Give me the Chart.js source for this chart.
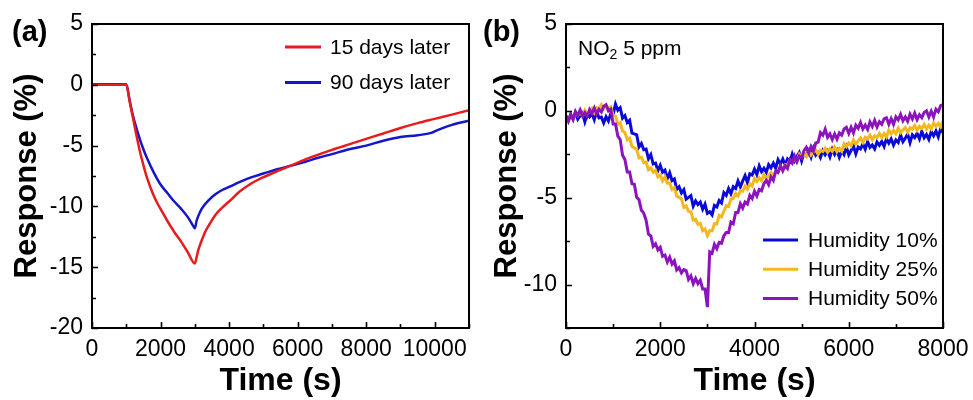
<!DOCTYPE html>
<html><head><meta charset="utf-8">
<script src="https://cdn.jsdelivr.net/npm/chart.js@4.4.1/dist/chart.umd.min.js"></script>
<style>
html,body{margin:0;padding:0;background:#fff}
body{width:973px;height:400px;overflow:hidden;position:relative;font-family:"Liberation Sans",Arial,sans-serif;color:#000}
.pane{position:absolute;top:0;height:400px}
#pa{left:0;width:486px}
#pb{left:480px;width:493px}
.lbl{position:absolute;font-weight:bold;font-size:29px;line-height:29px;top:17px}
.note{position:absolute;left:578px;top:37px;font-size:21px;line-height:21px;white-space:nowrap}
.note sub{font-size:14px;vertical-align:-4px;line-height:0}
</style></head><body>
<div class="pane" id="pa"><canvas id="ca" width="486" height="400"></canvas></div>
<div class="pane" id="pb"><canvas id="cb" width="493" height="400"></canvas></div>
<div class="lbl" style="left:12px">(a)</div>
<div class="lbl" style="left:483px">(b)</div>
<div class="note">NO<sub>2</sub> 5 ppm</div>
<script>
// ---------- Panel (a) data ----------
const tRed = [0,500,1000,1100,1200,1300,1400,1500,1600,1700,1800,1900,2000,2200,2400,2600,2800,3000,3050,3100,3200,3300,3400,3600,3800,4000,4300,4600,5000,5500,5800,6000,6500,7000,7500,8000,8500,9000,9500,10000,10500,11000];
const red15 = [0,0,0,-1.4,-2.8,-4.2,-5.5,-6.6,-7.6,-8.4,-9.1,-9.7,-10.2,-11.2,-12.1,-12.9,-13.8,-14.7,-14.2,-13.6,-12.8,-12.1,-11.6,-10.7,-10.1,-9.6,-8.8,-8.2,-7.6,-7.0,-6.65,-6.4,-5.85,-5.35,-4.9,-4.45,-4.0,-3.55,-3.15,-2.8,-2.45,-2.1];
const tBlue = [0,300,600,1000,1100,1200,1300,1400,1500,1600,1800,2000,2200,2400,2600,2800,2950,3000,3050,3100,3200,3400,3600,3800,4000,4300,4600,5000,5400,5800,6200,6600,7000,7500,8000,8500,9000,9500,9900,10100,10500,11000];
const blue90 = [0.05,0.05,0.05,0.05,-1.3,-2.6,-3.6,-4.5,-5.3,-6.0,-7.2,-8.2,-8.9,-9.6,-10.2,-10.9,-11.6,-11.8,-11.2,-10.8,-10.2,-9.5,-9.0,-8.65,-8.4,-8.0,-7.65,-7.3,-6.95,-6.65,-6.35,-6.0,-5.7,-5.3,-5.0,-4.6,-4.3,-4.15,-3.95,-3.7,-3.3,-2.95];
const labelsA = ['15 days later','90 days later'];
const xTicksA = [0,2000,4000,6000,8000,10000];
const yTicksA = [5,0,-5,-10,-15,-20];

// ---------- Panel (b) data ----------
const tB = [0,50,100,150,200,250,300,350,400,450,500,550,600,650,700,750,800,850,900,950,
1000,1050,1100,1150,1200,1250,1300,1350,1400,1450,1500,1550,1600,1650,1700,1750,1800,1850,1900,1950,
2000,2050,2100,2150,2200,2250,2300,2350,2400,2450,2500,2550,2600,2650,2700,2750,2800,2850,2900,2950,
3000,3050,3100,3150,3200,3250,3300,3350,3400,3450,3500,3550,3600,3650,3700,3750,3800,3850,3900,3950,
4000,4050,4100,4150,4200,4250,4300,4350,4400,4450,4500,4550,4600,4650,4700,4750,4800,4850,4900,4950,
5000,5050,5100,5150,5200,5250,5300,5350,5400,5450,5500,5550,5600,5650,5700,5750,5800,5850,5900,5950,
6000,6050,6100,6150,6200,6250,6300,6350,6400,6450,6500,6550,6600,6650,6700,6750,6800,6850,6900,6950,
7000,7050,7100,7150,7200,7250,7300,7350,7400,7450,7500,7550,7600,7650,7700,7750,7800,7850,7900,7950,
8000];
const hum10 = [-0.27,-0.57,-0.22,-0.47,-0.09,-0.48,-0.28,-0.13,-0.63,-0.18,-0.34,-0.15,-0.51,-0.02,-0.4,-0.36,-0.69,-0.34,-0.58,-0.16,
-0.2,0.39,0.04,0.18,-0.42,-0.27,-0.67,-0.54,-1.28,-1.33,-1.38,-2.08,-1.88,-2.24,-2.2,-2.76,-2.52,-3.05,-3.01,-3.44,
-3.14,-3.53,-3.41,-3.9,-3.56,-4.01,-3.92,-4.52,-4.37,-4.72,-4.54,-5.08,-4.98,-4.88,-5.48,-5.18,-5.39,-5.25,-5.66,-5.37,
-5.9,-5.81,-5.99,-5.44,-5.53,-5.16,-5.3,-4.71,-4.86,-4.47,-4.77,-4.37,-4.47,-4.04,-4.38,-4.03,-3.73,-4.13,-3.63,-3.69,
-3.35,-3.66,-3.17,-3.5,-3.31,-3.54,-3.09,-3.28,-3.01,-3.3,-2.81,-3.06,-2.77,-3.12,-2.77,-2.92,-2.49,-2.88,-2.63,-2.4,
-2.88,-2.43,-2.59,-2.3,-2.66,-2.17,-2.55,-2.41,-2.69,-2.29,-2.53,-2.31,-2.65,-2.21,-2.51,-2.27,-2.67,-2.32,-2.52,-2.09,
-2.53,-2.28,-2.03,-2.48,-2.08,-2.19,-1.9,-2.21,-1.77,-2.1,-1.96,-2.19,-1.79,-1.98,-1.76,-2.05,-1.61,-1.86,-1.62,-1.97,
-1.67,-1.82,-1.39,-1.78,-1.58,-1.33,-1.83,-1.38,-1.54,-1.3,-1.61,-1.17,-1.55,-1.36,-1.64,-1.19,-1.43,-1.16,-1.5,-1.01,
-1.26];
const hum25 = [-0.38,-0.6,-0.3,-0.48,-0.09,-0.26,-0.1,-0.27,0.03,-0.2,-0.03,0.14,-0.11,0.18,0.11,0.35,0.11,0.31,0.12,0.22,
-0.25,-0.3,-0.78,-0.69,-1.16,-1.25,-1.67,-1.57,-2.05,-2.13,-2.21,-2.71,-2.67,-2.99,-2.95,-3.39,-3.29,-3.53,-3.43,-3.8,
-3.7,-4.03,-3.79,-4.16,-4.15,-4.52,-4.42,-4.9,-4.98,-5.06,-5.56,-5.47,-5.79,-5.8,-6.29,-6.24,-6.53,-6.48,-6.9,-6.8,
-7.18,-6.89,-6.91,-6.5,-6.52,-6.02,-6.1,-5.78,-5.46,-5.51,-5.07,-5.04,-4.75,-4.89,-4.59,-4.63,-4.33,-4.5,-4.2,-4.33,
-3.89,-4.06,-3.85,-4.02,-3.67,-3.9,-3.73,-3.56,-3.81,-3.47,-3.49,-3.2,-3.39,-3.09,-3.13,-2.83,-3.0,-2.75,-2.88,-2.49,
-2.66,-2.45,-2.62,-2.32,-2.55,-2.38,-2.26,-2.51,-2.27,-2.34,-2.15,-2.39,-2.19,-2.33,-2.08,-2.35,-2.15,-2.33,-1.89,-2.06,
-1.85,-2.02,-1.67,-1.9,-1.73,-1.56,-1.81,-1.52,-1.62,-1.4,-1.66,-1.44,-1.53,-1.3,-1.53,-1.3,-1.5,-1.12,-1.31,-1.12,
-1.32,-1.0,-1.25,-1.1,-0.96,-1.24,-0.97,-1.06,-0.85,-1.12,-0.89,-1.01,-0.78,-1.05,-0.83,-1.04,-0.69,-0.89,-0.72,-0.92,
-0.57];
const hum50 = [-0.3,-0.6,-0.2,-0.5,-0.05,-0.25,0.05,-0.3,-0.1,-0.32,0.08,-0.15,0.17,-0.18,0.08,-0.07,0.26,0.35,0.0,0.1,
-0.75,-0.75,-1.45,-1.65,-2.55,-2.8,-3.52,-3.52,-4.2,-4.23,-4.98,-5.12,-5.72,-5.89,-6.3,-7.1,-7.2,-7.8,-7.65,-8.0,
-7.85,-8.37,-8.3,-8.7,-8.42,-8.82,-8.63,-9.16,-9.02,-9.32,-9.14,-9.2,-9.7,-9.5,-9.95,-9.65,-9.95,-9.75,-10.25,-10.25,
-11.3,-8.12,-8.2,-7.68,-7.93,-7.57,-7.62,-7.19,-7.0,-7.0,-6.4,-6.5,-5.85,-5.85,-5.35,-5.6,-5.25,-5.37,-4.87,-5.05,
-4.63,-4.9,-4.52,-4.6,-4.19,-4.0,-4.25,-3.8,-4.0,-3.47,-3.55,-3.15,-3.45,-3.15,-3.32,-2.82,-3.0,-2.6,-2.93,-2.6,
-2.72,-2.29,-2.1,-2.42,-2.05,-2.33,-1.85,-1.8,-1.25,-1.4,-1.05,-1.52,-1.32,-1.65,-1.33,-1.63,-1.27,-1.4,-1.04,-0.95,
-1.3,-0.95,-1.27,-0.83,-1.0,-0.67,-1.05,-0.82,-1.07,-0.64,-0.9,-0.55,-0.93,-0.62,-0.77,-0.46,-0.4,-0.77,-0.45,-0.77,
-0.35,-0.52,-0.2,-0.57,-0.35,-0.6,-0.19,-0.46,-0.13,-0.5,-0.22,-0.39,-0.09,0.0,-0.35,-0.02,-0.35,0.1,-0.05,0.3,
0.35];
const labelsB = ['Humidity 10%','Humidity 25%','Humidity 50%'];
const xTicksB = [0,2000,4000,6000,8000];
const yTicksB = [5,0,-5,-10];

// ---------- helpers ----------
const FONT = '"Liberation Sans", Arial, sans-serif';
const pts = (xs, ys) => xs.map((x, i) => ({x, y: ys[i]}));

const framePlugin = {
  id: 'frame',
  afterDraw(chart, args, o) {
    const {ctx, chartArea: {left, right, top, bottom}, scales: {x, y}} = chart;
    ctx.save();
    ctx.strokeStyle = '#000';
    ctx.lineWidth = 1.6;
    ctx.beginPath();
    for (let v = x.min; v <= x.max + 1e-6; v += o.xMinor) {
      const px = Math.round(x.getPixelForValue(v)) + 0.5;
      const major = Math.abs(v / o.xMajor - Math.round(v / o.xMajor)) < 1e-6;
      ctx.moveTo(px, bottom); ctx.lineTo(px, bottom - (major ? 6 : 4));
    }
    for (let v = y.min; v <= y.max + 1e-6; v += o.yMinor) {
      const py = Math.round(y.getPixelForValue(v)) + 0.5;
      const major = Math.abs(v / o.yMajor - Math.round(v / o.yMajor)) < 1e-6;
      ctx.moveTo(left, py); ctx.lineTo(left + (major ? 6 : 4), py);
    }
    ctx.stroke();
    ctx.lineWidth = 2;
    ctx.strokeRect(left, top, right - left, bottom - top);
    ctx.restore();
  }
};

const legendPlugin = {
  id: 'lineLegend',
  afterDraw(chart, args, o) {
    const ctx = chart.ctx;
    ctx.save();
    ctx.font = '21px ' + FONT;
    ctx.textBaseline = 'middle';
    ctx.fillStyle = '#000';
    chart.data.datasets.forEach((ds, i) => {
      const y = o.y0 + i * o.dy;
      ctx.strokeStyle = ds.borderColor;
      ctx.lineWidth = 3;
      ctx.beginPath(); ctx.moveTo(o.x0, y); ctx.lineTo(o.x0 + o.len, y); ctx.stroke();
      ctx.fillText(ds.label, o.x0 + o.len + o.gap, y + 1);
    });
    ctx.restore();
  }
};

function makeOptions(cfg) {
  return {
    responsive: false,
    animation: false,
    devicePixelRatio: 1,
    layout: {padding: {top: 24, right: cfg.padRight, left: 0, bottom: 0}},
    plugins: {
      legend: {display: false},
      tooltip: {enabled: false},
      frame: {xMinor: cfg.xMinor, xMajor: cfg.xMajor, yMinor: cfg.yMinor, yMajor: cfg.yMajor},
      lineLegend: cfg.legend
    },
    elements: {point: {radius: 0}},
    scales: {
      x: {
        type: 'linear', min: cfg.xMin, max: cfg.xMax,
        grid: {display: false, drawTicks: false},
        border: {display: false},
        afterBuildTicks: s => { s.ticks = cfg.xTicks.map(v => ({value: v})); },
        ticks: {includeBounds: false, padding: 8, color: '#000', font: {family: FONT, size: 23}, maxRotation: 0, callback: v => String(v)},
        title: {display: true, text: 'Time (s)', color: '#000', font: {family: FONT, size: 32, weight: 'bold', lineHeight: 1}, padding: {top: 0, bottom: 3}},
        afterFit: s => { s.height = 72; s.paddingLeft = 0; s.paddingRight = 0; }
      },
      y: {
        type: 'linear', min: cfg.yMin, max: cfg.yMax,
        grid: {display: false, drawTicks: false},
        border: {display: false},
        afterBuildTicks: s => { s.ticks = cfg.yTicks.map(v => ({value: v})); },
        ticks: {includeBounds: false, padding: 9, color: '#000', font: {family: FONT, size: 23}, callback: v => String(v)},
        title: {display: true, text: 'Response (%)', color: '#000', font: {family: FONT, size: 31, weight: 'bold', lineHeight: 1.2}, padding: {top: 9, bottom: 0}},
        afterFit: s => { s.width = cfg.yWidth; s.paddingTop = 0; s.paddingBottom = 0; }
      }
    }
  };
}

// ---------- Panel (a) ----------
new Chart(document.getElementById('ca'), {
  type: 'line',
  data: {datasets: [
    {label: labelsA[0], data: pts(tRed, red15), borderColor: '#e81c1c', borderWidth: 2.5, cubicInterpolationMode: 'monotone', fill: false},
    {label: labelsA[1], data: pts(tBlue, blue90), borderColor: '#1515cc', borderWidth: 2.5, cubicInterpolationMode: 'monotone', fill: false}
  ]},
  options: makeOptions({
    padRight: 17, yWidth: 92,
    xMin: 0, xMax: 11000, yMin: -20, yMax: 5,
    xTicks: xTicksA, yTicks: yTicksA,
    xMinor: 1000, xMajor: 2000, yMinor: 2.5, yMajor: 5,
    legend: {x0: 285, y0: 47, dy: 35.5, len: 36, gap: 9}
  }),
  plugins: [framePlugin, legendPlugin]
});

// ---------- Panel (b) ----------
new Chart(document.getElementById('cb'), {
  type: 'line',
  data: {datasets: [
    {label: labelsB[0], data: pts(tB, hum10), borderColor: '#0a0ad8', borderWidth: 3, tension: 0, order: 3, fill: false},
    {label: labelsB[1], data: pts(tB, hum25), borderColor: '#f5b81c', borderWidth: 3, tension: 0, order: 2, fill: false},
    {label: labelsB[2], data: pts(tB, hum50), borderColor: '#8c14bc', borderWidth: 3, tension: 0, order: 1, fill: false}
  ]},
  options: makeOptions({
    padRight: 30, yWidth: 86,
    xMin: 0, xMax: 8000, yMin: -12.5, yMax: 5,
    xTicks: xTicksB, yTicks: yTicksB,
    xMinor: 1000, xMajor: 2000, yMinor: 2.5, yMajor: 5,
    legend: {x0: 283, y0: 240, dy: 29.3, len: 35, gap: 10}
  }),
  plugins: [framePlugin, legendPlugin]
});
</script>
</body></html>
